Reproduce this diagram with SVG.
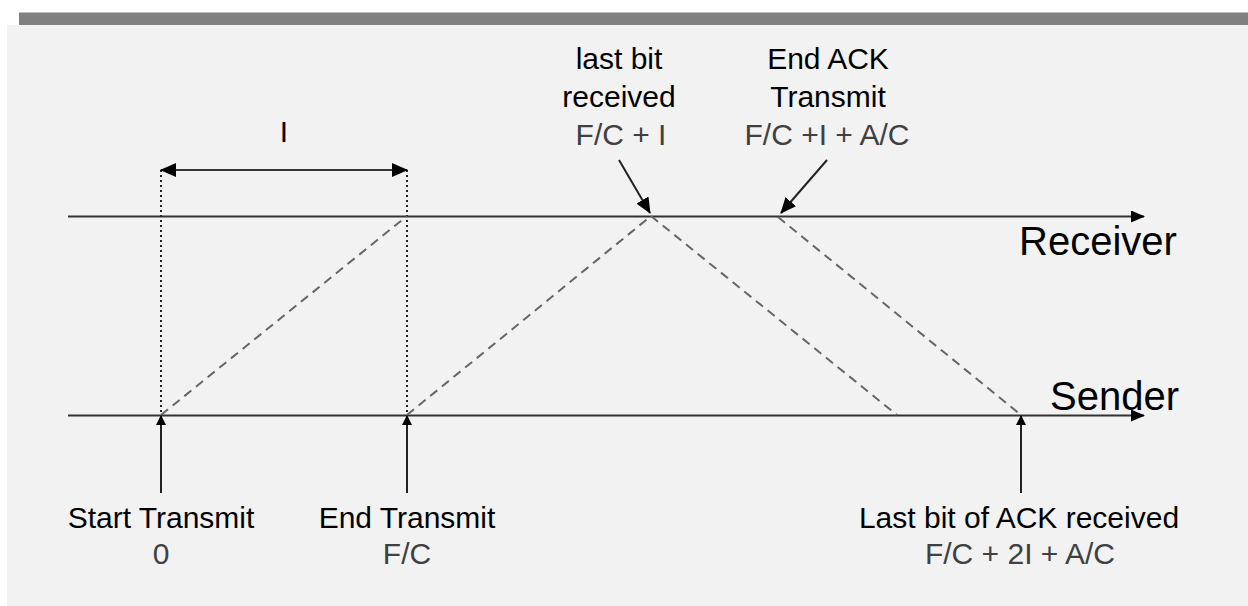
<svg xmlns="http://www.w3.org/2000/svg" width="1248" height="606" viewBox="0 0 1248 606">
<defs>
<style>
.txt{font-family:"Liberation Sans",Arial,sans-serif;font-size:30px;fill:#000;text-anchor:middle}
.val{fill:#404040}
.big{font-size:40px;text-anchor:start}
.axis{stroke:#333;stroke-width:2;fill:none}
.dot{stroke:#222;stroke-width:2;stroke-dasharray:2 3;fill:none}
.dash{stroke:#666;stroke-width:2;stroke-dasharray:9 6;fill:none}
.arr{stroke:#222;stroke-width:2;fill:none}
</style>
<marker id="axisHead" markerWidth="14" markerHeight="12" refX="13" refY="6" orient="auto" markerUnits="userSpaceOnUse">
<path d="M0,0 L14,6 L0,12 Z" fill="#000"/>
</marker>
<marker id="bigHead" markerWidth="16" markerHeight="14" refX="15" refY="7" orient="auto-start-reverse" markerUnits="userSpaceOnUse">
<path d="M0,0 L16,7 L0,14 Z" fill="#000"/>
</marker>
<marker id="smallHead" markerWidth="10" markerHeight="10" refX="9" refY="5" orient="auto" markerUnits="userSpaceOnUse">
<path d="M0,0 L10,5 L0,10 Z" fill="#000"/>
</marker>
</defs>
<rect x="0" y="0" width="1248" height="606" fill="#fff"/>
<rect x="19" y="12.5" width="1229" height="12.5" fill="#808080"/>
<rect x="7" y="25" width="1241" height="581" fill="#f2f2f2"/>

<g id="connectors">
<line class="axis" x1="68" y1="216.5" x2="1144" y2="216.5" marker-end="url(#axisHead)"/>
<line class="axis" x1="68" y1="415.5" x2="1144" y2="415.5" marker-end="url(#axisHead)"/>
<line class="dot" x1="161" y1="170" x2="161" y2="415"/>
<line class="dot" x1="407" y1="170" x2="407" y2="415"/>
<line class="axis" x1="161" y1="170" x2="407" y2="170" marker-start="url(#bigHead)" marker-end="url(#bigHead)"/>
<line class="dash" x1="161" y1="415" x2="407" y2="216"/>
<line class="dash" x1="407" y1="415" x2="651" y2="216"/>
<line class="dash" x1="651" y1="216" x2="897" y2="415"/>
<line class="dash" x1="778" y1="217" x2="1021" y2="415"/>
<line class="arr" x1="619" y1="160" x2="650" y2="213" marker-end="url(#bigHead)"/>
<line class="arr" x1="827" y1="160" x2="781" y2="213" marker-end="url(#bigHead)"/>
<line class="arr" x1="161" y1="493" x2="161" y2="416" marker-end="url(#smallHead)"/>
<line class="arr" x1="407" y1="493" x2="407" y2="416" marker-end="url(#smallHead)"/>
<line class="arr" x1="1021" y1="493" x2="1021" y2="416" marker-end="url(#smallHead)"/>
</g>

<g id="interval">
<text class="txt" x="284" y="142">I</text>
</g>
<g id="receiver">
<text class="txt big" x="1019" y="255">Receiver</text>
</g>
<g id="sender">
<text class="txt big" x="1050" y="410">Sender</text>
</g>
<g id="last-bit-received">
<text class="txt" x="619" y="69">last bit</text>
<text class="txt" x="619" y="107">received</text>
<text class="txt val" x="621" y="145">F/C + I</text>
</g>
<g id="end-ack-transmit">
<text class="txt" x="828" y="69">End ACK</text>
<text class="txt" x="828" y="107">Transmit</text>
<text class="txt val" x="827" y="145">F/C +I + A/C</text>
</g>
<g id="start-transmit">
<text class="txt" x="161" y="528">Start Transmit</text>
<text class="txt val" x="161" y="564">0</text>
</g>
<g id="end-transmit">
<text class="txt" x="407" y="528">End Transmit</text>
<text class="txt val" x="407" y="564">F/C</text>
</g>
<g id="ack-received">
<text class="txt" x="1019" y="528">Last bit of ACK received</text>
<text class="txt val" x="1020" y="564">F/C + 2I + A/C</text>
</g>
</svg>
